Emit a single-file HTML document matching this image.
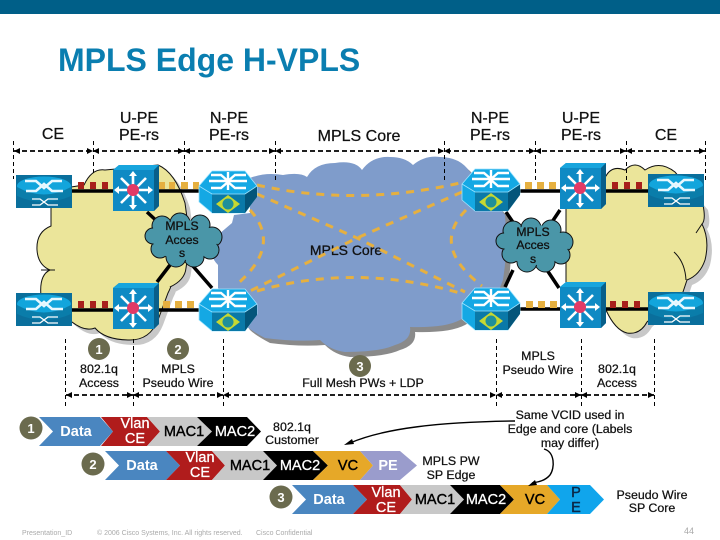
<!DOCTYPE html>
<html><head><meta charset="utf-8"><style>
html,body{margin:0;padding:0;background:#fff}
svg{display:block}
text{font-family:"Liberation Sans",sans-serif}
.m{font-size:16px;fill:#111;text-anchor:middle;stroke:#111;stroke-width:.25}
.s{font-size:12.4px;fill:#111;text-anchor:middle;stroke:#111;stroke-width:.25}
.a{font-size:12.2px;fill:#111;text-anchor:middle;stroke:#111;stroke-width:.3}
.w{font-size:14.5px;fill:#fff;text-anchor:middle;stroke:#fff;stroke-width:.3}
.wb{font-size:14.5px;fill:#fff;font-weight:bold;text-anchor:middle}
.k{font-size:14.5px;fill:#000;text-anchor:middle;stroke:#000;stroke-width:.4}
.f{font-size:7px;fill:#aaa}
.d{stroke:#000;stroke-width:1;stroke-dasharray:4 3;fill:none}
.h{stroke:#000;stroke-width:1.8;stroke-dasharray:5 3;fill:none}
.o{stroke:#e6b040;stroke-width:3;stroke-dasharray:8 7;fill:none}
.n{font-size:13px;font-weight:bold;fill:#fff;text-anchor:middle}
</style></head><body>
<svg width="720" height="540" viewBox="0 0 720 540" xmlns="http://www.w3.org/2000/svg">
<defs>
<g id="rt">
<rect width="56" height="33" fill="#0a6f9c"/>
<ellipse cx="28" cy="11" rx="27" ry="9.5" fill="#12a5dc"/>
<path d="M1 12V21Q28 33 55 21V12Q28 27 1 12Z" fill="#0a7daa"/>
<path d="M9 6H20L28 13 36 6H46M10 16H20L28 9 36 16H47" stroke="#e8f8ff" stroke-width="2.6" fill="none"/>
<path d="M16 24H24L32 30H42M16 30H24L32 24H42" stroke="#fff" stroke-width="1.3" fill="none"/>
</g>
<g id="sw">
<path d="M0 5L6 0H46V41L41 46H0Z" fill="#0a72a8"/>
<path d="M0 5L6 0H46L41 5Z" fill="#18a5dd"/>
<rect x="0" y="5" width="41" height="41" fill="#0f8ac4"/>
<path d="M41 5L46 0V41L41 46Z" fill="#085f8a"/>
<g stroke="#fff" stroke-width="2.6">
<path d="M20 9V42M3 25H38M8 13L33 38M33 13L8 38"/>
</g>
<g fill="#fff"><path d="M20 6l-4 5h8zM20 45l-4-5h8zM1 25l5-4v8zM40 25l-5-4v8z"/></g>
<circle cx="20" cy="25" r="6" fill="#e23a66"/>
</g>
<g id="hx">
<path d="M0 16L13 1H46L58 16V26L46 43H13L0 32Z" fill="#14a8e4" stroke="#9fe4ff" stroke-width=".8"/>
<path d="M46 24L58 16V27L46 43Z" fill="#04557a"/>
<rect x="13" y="24" width="33" height="19" fill="#0a79a8"/>
<path d="M0 16L13 24H46L58 16" fill="none" stroke="#9fe4ff" stroke-width=".8"/>
<path d="M12 5H22L29 11 36 5H47M12 18H22L29 12 36 18H47M10 11H48M29 2V20" stroke="#fff" stroke-width="2.4" fill="none"/>
<path d="M17 34L29 25 41 34 29 43Z" fill="#c6d832"/>
<circle cx="29" cy="34" r="5.5" fill="#1f8f9a"/>
</g>
<g id="acc">
<g fill="#4a96a8" stroke="#111" stroke-width="1">
<circle cx="-22" cy="-14" r="10"/><circle cx="-4" cy="-17" r="10"/><circle cx="16" cy="-15" r="10"/><circle cx="28" cy="-3" r="10"/><circle cx="26" cy="10" r="9"/><circle cx="10" cy="17" r="10"/><circle cx="-8" cy="17" r="10"/><circle cx="-24" cy="9" r="9"/><circle cx="-31" cy="-4" r="8"/>
</g>
<g fill="#4a96a8"><ellipse cx="0" cy="0" rx="31" ry="20"/><circle cx="-22" cy="-13" r="9"/><circle cx="-4" cy="-16" r="9"/><circle cx="16" cy="-14" r="9"/><circle cx="27" cy="-3" r="9"/><circle cx="25" cy="10" r="8"/><circle cx="10" cy="16" r="9"/><circle cx="-8" cy="16" r="9"/><circle cx="-24" cy="9" r="8"/><circle cx="-30" cy="-4" r="7"/></g>
</g>
<path id="cor" d="M250 178Q265 172 283 175Q300 172 307 177Q315 163 335 163Q355 160 362 170Q372 156 390 157Q405 157 413 165Q425 155 440 157Q460 157 470 172L505 215Q508 250 503 280L495 300L460 320Q445 328 410 327Q412 340 395 345Q380 352 345 352Q330 350 320 340Q295 342 265 338Q250 330 245 325L218 288L218 265Q208 255 212 240L232 223L234 215L250 213Z"/>
<path id="yl" d="M51 205L51 226Q36 232 37 250Q38 265 50 270Q39 275 41 296L72 322Q85 332 95 328Q105 340 130 340Q150 340 158 320L168 293Q172 285 170 287Q185 280 186 268L190 240L185 203Q175 172 158 165L105 170Q92 168 84 185L51 190Z"/>
<path id="yr" d="M566 290V205L606 176Q612 165 625 170Q635 160 645 170Q660 160 675 172L703 205Q706 220 702 224Q710 240 705 260Q700 275 687 280L683 292L647 322Q640 335 627 333Q615 330 606 310Z"/>
</defs>

<rect width="720" height="14" fill="#005f88"/>
<text x="58" y="71" font-size="32" font-weight="bold" fill="#0a7eb0">MPLS Edge H-VPLS</text>

<text class="m" x="53" y="139">CE</text>
<text class="m" x="139" y="123">U-PE</text><text class="m" x="139" y="140">PE-rs</text>
<text class="m" x="229" y="123">N-PE</text><text class="m" x="229" y="140">PE-rs</text>
<text class="m" x="359" y="141">MPLS Core</text>
<text class="m" x="490" y="123">N-PE</text><text class="m" x="490" y="140">PE-rs</text>
<text class="m" x="581" y="123">U-PE</text><text class="m" x="581" y="140">PE-rs</text>
<text class="m" x="666" y="140">CE</text>

<use href="#cor" fill="#8a8a8a" transform="translate(5,5)"/>
<use href="#yl" fill="#c8c8c8" transform="translate(5,5)"/>
<use href="#yr" fill="#c8c8c8" transform="translate(5,5)"/>
<g fill="#ebe59a" stroke="#111" stroke-width="1"><use href="#yl"/><use href="#yr"/></g>
<path d="M41 270H55M702 224L696 233M674 252Q685 262 686 280" stroke="#111" fill="none"/>
<use href="#cor" fill="#7f9ccb"/>

<path d="M147 212L160 224M157 282L170 265M192 265L212 288" stroke="#000" stroke-width="3.5" fill="none"/>
<path d="M506 212L517 228M560 210L552 222M513 270L505 287M547 270L559 288" stroke="#000" stroke-width="3.5" fill="none"/>

<use href="#acc" transform="translate(184,240)"/>
<use href="#acc" transform="translate(535,245)"/>

<text class="a" x="182" y="230">MPLS</text><text class="a" x="182" y="244">Acces</text><text class="a" x="182" y="257">s</text>
<text class="a" x="533" y="236">MPLS</text><text class="a" x="533" y="249">Acces</text><text class="a" x="533" y="263">s</text>
<text class="a" x="346" y="255" style="font-size:14px">MPLS Core</text>

<path class="o" d="M257 185Q355 207 460 183"/>
<path class="o" d="M257 194L357 238L465 292"/>
<path class="o" d="M462 192L357 238L250 291"/>
<path class="o" d="M250 210Q283 246 235 286"/>
<path class="o" d="M466 210Q430 246 482 286"/>
<path class="o" d="M257 291Q355 263 460 293"/>

<!-- links -->
<g stroke="#000" stroke-width="3.4"><path d="M72 191H113M158 191H199M520 191H560M606 191H648M72 310H113M158 310H199M520 309H560M606 309H648"/></g>
<g fill="#a8201c"><rect x="78" y="182" width="6" height="7"/><rect x="90" y="182" width="6" height="7"/><rect x="102" y="182" width="6" height="7"/>
<rect x="612" y="182" width="6" height="7"/><rect x="624" y="182" width="6" height="7"/><rect x="636" y="182" width="6" height="7"/>
<rect x="78" y="301" width="6" height="7"/><rect x="90" y="301" width="6" height="7"/><rect x="102" y="301" width="6" height="7"/>
<rect x="610" y="301" width="6" height="7"/><rect x="622" y="301" width="6" height="7"/><rect x="634" y="301" width="6" height="7"/></g>
<g fill="#e6b040"><rect x="159" y="182" width="6" height="7"/><rect x="169" y="182" width="6" height="7"/><rect x="181" y="182" width="7" height="7"/><rect x="193" y="182" width="6" height="7"/>
<rect x="525" y="182" width="7" height="7"/><rect x="537" y="182" width="7" height="7"/><rect x="549" y="182" width="7" height="7"/>
<rect x="163" y="301" width="7" height="7"/><rect x="175" y="301" width="7" height="7"/><rect x="187" y="301" width="7" height="7"/>
<rect x="526" y="301" width="7" height="7"/><rect x="538" y="301" width="7" height="7"/><rect x="550" y="301" width="7" height="7"/></g>

<use href="#rt" x="16" y="175"/><use href="#sw" x="113" y="165"/><use href="#hx" x="199" y="170"/>
<use href="#hx" x="462" y="168"/><use href="#sw" x="560" y="163"/><use href="#rt" x="648" y="174"/>
<use href="#rt" x="16" y="293"/><use href="#sw" x="113" y="283"/><use href="#hx" x="199" y="288"/>
<use href="#hx" x="462" y="287"/><use href="#sw" x="560" y="282"/><use href="#rt" x="648" y="292"/>

<!-- dimension lines -->
<path class="d" d="M13.5 141V179M93.5 141V175M184.5 141V180M275.5 141V180M444.5 141V180M535.5 141V180M626.5 141V180M705.5 141V180"/>
<path class="h" d="M14 151H705"/>
<g fill="#000"><path d="M14 151l6-3v6zM93 151l-6-3v6zM93 151l6-3v6zM184 151l-6-3v6zM184 151l6-3v6zM275 151l-6-3v6zM275 151l6-3v6zM444 151l-6-3v6zM444 151l6-3v6zM535 151l-6-3v6zM535 151l6-3v6zM626 151l-6-3v6zM626 151l6-3v6zM705 151l-6-3v6z"/></g>
<path class="d" d="M65.5 339V406M133.5 339V406M223.5 339V406M496.5 339V406M581.5 339V406M654.5 339V406"/>
<path class="h" d="M66 395H654"/>
<g fill="#000"><path d="M66 395l6-3v6zM133 395l-6-3v6zM133 395l6-3v6zM223 395l-6-3v6zM223 395l6-3v6zM496 395l-6-3v6zM496 395l6-3v6zM581 395l-6-3v6zM581 395l6-3v6zM654 395l-6-3v6z"/></g>

<!-- numbered badges and labels -->
<g fill="#6b6b4e"><circle cx="99" cy="349" r="11"/><circle cx="178" cy="349" r="11"/><circle cx="360" cy="366" r="11"/><circle cx="31" cy="428" r="11.5"/><circle cx="93" cy="464" r="11.5"/><circle cx="281" cy="497" r="11.5"/></g>
<text class="n" x="99" y="354">1</text><text class="n" x="178" y="354">2</text><text class="n" x="360" y="371">3</text>
<text class="n" x="31" y="433">1</text><text class="n" x="93" y="469">2</text><text class="n" x="281" y="502">3</text>

<text class="s" x="99" y="373">802.1q</text><text class="s" x="99" y="387">Access</text>
<text class="s" x="178" y="373">MPLS</text><text class="s" x="178" y="387">Pseudo Wire</text>
<text class="s" x="363" y="387">Full Mesh PWs + LDP</text>
<text class="s" x="538" y="360">MPLS</text><text class="s" x="538" y="374">Pseudo Wire</text>
<text class="s" x="617" y="373">802.1q</text><text class="s" x="617" y="387">Access</text>

<!-- Row 1 -->
<path d="M39 417H100L113 431.5L100 446H39L53 431.5Z" fill="#4a86c0"/>
<path d="M101 417H147L160 431.5L147 446H101L113 431.5Z" fill="#b01c1c"/>
<path d="M147 417H197L212 431.5L197 446H147L160 431.5Z" fill="#c8c8c8"/>
<path d="M197 417H247L261 431.5L247 446H197L212 431.5Z" fill="#000"/>
<text class="wb" x="76" y="436">Data</text>
<text class="w" x="135" y="428">Vlan</text><text class="w" x="135" y="443">CE</text>
<text class="k" x="184" y="436">MAC1</text>
<text class="w" x="235" y="436">MAC2</text>
<text class="s" x="292" y="431">802.1q</text><text class="s" x="292" y="444">Customer</text>

<!-- Row 2 -->
<path d="M105 451H166L180 465.5L166 480H105L119 465.5Z" fill="#4a86c0"/>
<path d="M166 451H212L225 465.5L212 480H166L180 465.5Z" fill="#b01c1c"/>
<path d="M212 451H263L277 465.5L263 480H212L225 465.5Z" fill="#c8c8c8"/>
<path d="M263 451H313L328 465.5L313 480H263L277 465.5Z" fill="#000"/>
<path d="M313 451H360L373 465.5L360 480H313L328 465.5Z" fill="#e6a828"/>
<path d="M360 451H400L417 465.5L400 480H360L373 465.5Z" fill="#9a9ccc"/>
<text class="wb" x="142" y="470">Data</text>
<text class="w" x="200" y="462">Vlan</text><text class="w" x="200" y="477">CE</text>
<text class="k" x="250" y="470">MAC1</text>
<text class="w" x="300" y="470">MAC2</text>
<text class="k" x="348" y="470">VC</text>
<text class="wb" x="388" y="470">PE</text>
<text class="s" x="451" y="465">MPLS PW</text><text class="s" x="451" y="479">SP Edge</text>

<!-- Row 3 -->
<path d="M292 485H353L367 499.5L353 514H292L306 499.5Z" fill="#4a86c0"/>
<path d="M353 485H400L412 499.5L400 514H353L367 499.5Z" fill="#b01c1c"/>
<path d="M400 485H450L464 499.5L450 514H400L412 499.5Z" fill="#c8c8c8"/>
<path d="M450 485H500L514 499.5L500 514H450L464 499.5Z" fill="#000"/>
<path d="M500 485H547L560 499.5L547 514H500L514 499.5Z" fill="#e6a828"/>
<path d="M547 485H590L604 499.5L590 514H547L560 499.5Z" fill="#10a5ec"/>
<text class="wb" x="329" y="504">Data</text>
<text class="w" x="386" y="497">Vlan</text><text class="w" x="386" y="512">CE</text>
<text class="k" x="435" y="504">MAC1</text>
<text class="w" x="486" y="504">MAC2</text>
<text class="k" x="535" y="504">VC</text>
<text class="k" x="576" y="497" style="fill:#0a2a4a;stroke:#0a2a4a">P</text><text class="k" x="576" y="512" style="fill:#0a2a4a;stroke:#0a2a4a">E</text>
<text class="s" x="652" y="499">Pseudo Wire</text><text class="s" x="652" y="512">SP Core</text>

<!-- callout -->
<text class="s" x="570" y="419">Same VCID used in</text><text class="s" x="570" y="433">Edge and core (Labels</text><text class="s" x="570" y="447">may differ)</text>
<path d="M515 421C440 422 385 428 350 443" stroke="#000" stroke-width="1.4" fill="none"/>
<path d="M344 445l8-6 2 5z" fill="#000"/>
<path d="M544 449C555 452 555 468 550 475C545 481 538 482 532 483" stroke="#000" stroke-width="1.4" fill="none"/>
<path d="M528 486l7-6 2 5z" fill="#000"/>

<text class="f" x="22" y="535">Presentation_ID</text>
<text class="f" x="97" y="535">© 2006 Cisco Systems, Inc. All rights reserved.</text>
<text class="f" x="256" y="535">Cisco Confidential</text>
<text class="f" x="684" y="534" style="font-size:9px">44</text>
</svg>
</body></html>
